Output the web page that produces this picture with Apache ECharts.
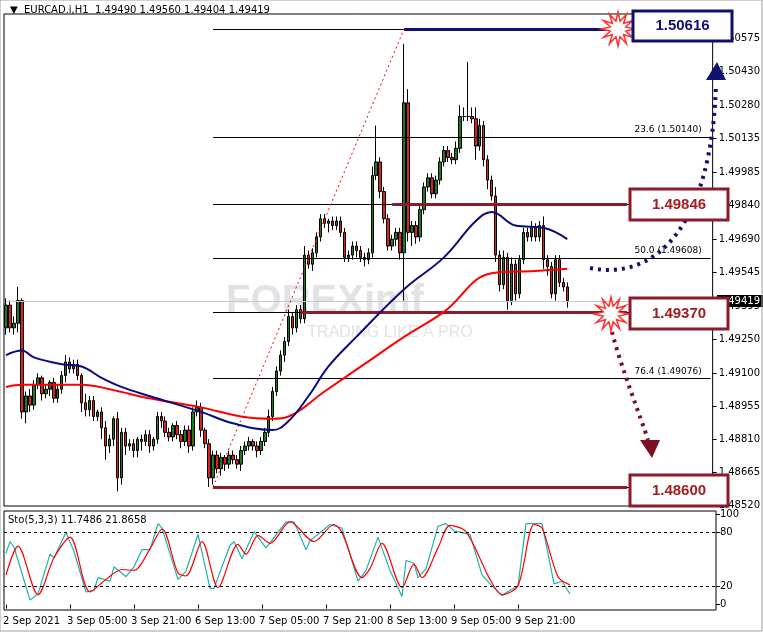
<!DOCTYPE html>
<html><head><meta charset="utf-8">
<script src="https://cdn.jsdelivr.net/npm/echarts@6/dist/echarts.min.js"></script>
<style>html,body{margin:0;padding:0;background:#f0f0f0;}#c{width:763px;height:632px;}</style>
</head><body><div id="c"></div>
<script>
const tickLabels = ['2 Sep 2021','3 Sep 05:00','3 Sep 21:00','6 Sep 13:00','7 Sep 05:00','7 Sep 21:00','8 Sep 13:00','9 Sep 05:00','9 Sep 21:00'];
const firstOpen = 1.4930;
const closes = [
1.4940,1.4930,1.4932,1.4942,1.4893,1.4900,1.4896,1.4905,1.4908,1.4901,
1.4903,1.4906,1.4899,1.4903,1.4909,1.4915,1.4912,1.4914,1.4909,1.4897,
1.4894,1.4898,1.4891,1.4893,1.4886,1.4878,1.4881,1.4890,1.4864,1.4884,
1.4878,1.4879,1.4876,1.4881,1.4880,1.4883,1.4878,1.4881,1.4891,1.4889,
1.4884,1.4882,1.4887,1.4883,1.4880,1.4885,1.4878,1.4893,1.4895,1.4885,
1.4879,1.4864,1.4874,1.4868,1.4873,1.4870,1.4874,1.4872,1.4870,1.4876,
1.4878,1.4880,1.4878,1.4876,1.4880,1.4884,1.4891,1.4902,1.4911,1.4918,
1.4924,1.4935,1.4930,1.4938,1.4934,1.4962,1.4958,1.4963,1.4970,1.4978,
1.4976,1.4977,1.4975,1.4977,1.4972,1.4961,1.4962,1.4966,1.4964,1.4961,
1.4960,1.4963,1.4997,1.5003,1.4990,1.4978,1.4966,1.4969,1.4972,1.4963,
1.5029,1.4972,1.4975,1.4970,1.4982,1.4992,1.4996,1.4989,1.4995,1.5003,
1.5008,1.5005,1.5004,1.5009,1.5023,1.5023,1.5023,1.5022,1.5010,1.5019,
1.5004,1.4995,1.4988,1.4962,1.4949,1.4961,1.4942,1.4958,1.4945,1.4960,
1.4972,1.4970,1.4974,1.4970,1.4975,1.4960,1.4957,1.4945,1.4960,1.4950,
1.4948,1.49419];
const wickUp = [
3,2,3,6,1,2,3,2,2,1, 2,1,2,2,2,3,2,2,2,1, 4,2,2,1,2,3,2,1,3,2, 2,2,2,1,2,2,2,1,2,2,
2,2,1,2,2,2,2,2,3,2, 1,2,2,2,2,1,2,2,2,2, 2,2,1,2,2,2,3,2,2,2, 2,3,2,2,2,4,2,2,2,2,
2,1,2,2,2,2,2,2,2,2, 2,2,4,16,2,2,2,2,2,2, 26,6,2,2,2,2,2,2,2,2, 2,2,2,3,5,4,24,4,5,3,
2,2,2,4,2,3,2,3,2,2, 2,2,3,2,2,4,2,2,2,2, 2,2];
const wickDn = [
3,2,3,4,3,5,3,2,2,3, 2,3,2,2,2,3,2,2,2,4, 3,3,2,2,5,6,3,3,6,3, 4,2,3,3,4,2,3,2,2,3,
2,2,2,2,3,2,3,2,2,3, 2,4,3,2,3,3,2,2,2,3, 2,2,2,3,2,2,2,2,2,2, 3,2,3,2,2,2,2,3,2,2,
2,4,2,2,2,2,2,2,3,2, 3,2,2,2,3,2,2,2,3,3, 21,4,6,3,2,2,2,2,2,2, 2,2,2,2,2,2,2,2,6,2,
3,4,2,3,3,2,4,2,3,2, 2,2,2,2,2,4,4,2,3,2, 2,3];
const maBlue = [[0,1.4918],[4,1.4920],[7,1.4917],[14,1.4914],[19,1.4913],[24,1.4908],[29,1.4904],[36,1.4900],[49,1.4893],[57,1.4888],[67,1.4885],[71,1.4889],[76,1.4900],[81,1.4913],[88,1.4926],[100,1.4947],[110,1.4961],[118,1.4977],[122,1.4981],[128,1.4975],[135,1.4974],[141,1.4969]];
const maRed = [[0,1.4904],[4,1.4905],[16,1.4905],[19,1.4905],[26,1.4903],[36,1.4899],[49,1.4895],[59,1.4891],[67,1.4890],[71,1.4891],[80,1.4902],[90,1.4914],[100,1.4926],[110,1.4937],[122,1.4954],[133,1.4955],[141,1.4956]];
const stoK = [[0,57],[1,70],[2,64],[6,5],[8,12],[11,56],[12,52],[15,80],[17,59],[20,14],[22,16],[23,30],[26,26],[27,42],[30,31],[32,42],[34,61],[36,61],[38,90],[39,85],[43,28],[45,37],[48,78],[51,18],[52,18],[56,66],[57,70],[59,51],[62,81],[65,63],[70,92],[72,92],[75,61],[76,71],[81,89],[84,85],[88,26],[90,38],[93,75],[96,38],[99,9],[100,49],[102,46],[103,30],[105,40],[108,87],[110,90],[112,82],[116,78],[119,33],[121,23],[124,10],[126,16],[128,21],[130,90],[134,90],[137,23],[139,26],[141,11.7486]];
const stoD = [[0,33],[3,65],[8,11],[12,52],[16,75],[21,14],[25,28],[29,39],[32,38],[36,62],[39,84],[43,35],[45,32],[49,70],[53,19],[58,67],[60,56],[63,77],[66,68],[71,92],[77,70],[82,89],[84,80],[89,30],[91,40],[94,68],[99,19],[102,45],[104,30],[108,63],[111,88],[115,81],[121,28],[124,11],[128,21],[132,89],[134,85],[138,31],[141,21.8658]];
const priceTicks = [1.48520,1.48665,1.48810,1.48955,1.49100,1.49250,1.49395,1.49545,1.49690,1.49840,1.49985,1.50135,1.50280,1.50430,1.50575];
const fibLevels = [['23.6',1.50140],['38.2',1.49846],['50.0',1.49608],['61.8',1.49370],['76.4',1.49076],['100.0',1.48600]];
const swingHigh = 1.50616, swingLow = 1.48600, lastPrice = 1.49419;
const NSLOTS = 178;

const cats = Array.from({length:NSLOTS},(_,i)=>String(i));
const candles = closes.map((c,i)=>{
  const o = i===0?firstOpen:closes[i-1];
  return [o,c,Math.min(o,c)-wickDn[i]*1e-4,Math.max(o,c)+wickUp[i]*1e-4];
});
const F = 'Tahoma, "DejaVu Sans", sans-serif';
const ml = [];
const seg=(a,va,b,vb,col,w,type)=>ml.push([{coord:[a,va],symbol:'none',lineStyle:{color:col,width:w,type:type||'solid'},label:{show:false}},{coord:[b,vb],symbol:'none'}]);
fibLevels.forEach(f=>seg(52,f[1],177,f[1],'#000',1));
seg(52,swingHigh,100,swingHigh,'#000',1);
seg(100,swingHigh,151,swingHigh,'#101070',3);
seg(97,1.49846,156,1.49846,'#8b1a2b',3);
seg(74,1.49370,156,1.49370,'#8b1a2b',3);
seg(52,1.48600,156,1.48600,'#8b1a2b',3);
seg(0,lastPrice,177,lastPrice,'#c8c8c8',1);
seg(52,swingLow,100,swingHigh,'#ff0000',1,[2,3]);
const fibLabels = fibLevels.filter(f=>['23.6','50.0','76.4'].includes(f[0])).map(f=>({coord:[176,f[1]],symbol:'circle',symbolSize:0,label:{show:true,position:'left',formatter:f[0]+' ('+f[1].toFixed(5)+')',color:'#000',fontSize:9,fontFamily:F,offset:[0,-7]}}));

function star(cx,cy,r1,r2,n){const p=[];for(let k=0;k<2*n;k++){const r=k%2?r2:r1;const a=Math.PI*k/n-Math.PI/2;p.push([cx+r*Math.cos(a),cy+r*Math.sin(a)]);}return p;}
function box(x,y,w,h,txt,col){return [{type:'rect',shape:{x:x,y:y,width:w,height:h},style:{fill:'#fff',stroke:col,lineWidth:3},z:100},
 {type:'text',x:x+w/2,y:y+h/2,style:{text:txt,fill:col==='#101070'?'#101070':'#a02020',font:'bold 15px Arial, "Liberation Sans", sans-serif',align:'center',verticalAlign:'middle'},z:101}];}

const chart = echarts.init(document.getElementById('c'));
chart.setOption({
  animation:false,
  backgroundColor:'#fff',
  grid:[{left:4,right:47,top:14,bottom:126,show:true,borderColor:'#000',borderWidth:1,backgroundColor:'#fff'},
        {left:4,right:47,top:511,bottom:22,show:true,borderColor:'#000',borderWidth:1,backgroundColor:'#fff'}],
  xAxis:[{type:'category',data:cats,gridIndex:0,boundaryGap:true,axisLine:{show:false},axisTick:{show:false},axisLabel:{show:false}},
         {type:'category',data:cats,gridIndex:1,boundaryGap:true,axisLine:{show:false},
          axisTick:{show:true,interval:(i)=>i%16===0&&i<144,length:4,lineStyle:{color:'#000'},alignWithLabel:true},
          axisLabel:{show:true,interval:0,formatter:(v,i)=>(i%16===0&&i<144)?tickLabels[i/16]:'',align:'left',color:'#000',fontSize:10,fontFamily:F,margin:6,padding:[0,0,0,-3]}}],
  yAxis:[{type:'value',gridIndex:0,position:'right',min:1.48516,max:1.50681,splitLine:{show:false},axisLine:{show:false},
          axisTick:{show:true,customValues:priceTicks,length:4,lineStyle:{color:'#000'}},
          axisLabel:{show:true,customValues:priceTicks,formatter:v=>v.toFixed(5),color:'#000',fontSize:10,fontFamily:F,margin:6}},
         {type:'value',gridIndex:1,position:'right',min:-6,max:104,splitLine:{show:false},axisLine:{show:false},
          axisTick:{show:true,customValues:[0,20,80,100],length:4,lineStyle:{color:'#000'}},
          axisLabel:{show:true,customValues:[0,20,80,100],color:'#000',fontSize:10,fontFamily:F,margin:4}}],
  series:[
    {type:'candlestick',xAxisIndex:0,yAxisIndex:0,data:candles,barWidth:3,
     itemStyle:{color:'#1f7a1f',color0:'#e02020',borderColor:'#000',borderColor0:'#000',borderWidth:1},
     markLine:{silent:true,symbol:'none',data:ml,animation:false},
     markPoint:{silent:true,data:fibLabels}},
    {type:'line',xAxisIndex:0,yAxisIndex:0,data:maRed,smooth:0.4,symbol:'none',lineStyle:{color:'#ff0000',width:2},z:5},
    {type:'line',xAxisIndex:0,yAxisIndex:0,data:maBlue,smooth:0.4,symbol:'none',lineStyle:{color:'#0b0b80',width:2},z:5},
    {type:'line',xAxisIndex:1,yAxisIndex:1,data:stoK,symbol:'none',lineStyle:{color:'#20b2aa',width:1.2},
     markLine:{silent:true,symbol:'none',label:{show:false},lineStyle:{color:'#000',type:[3,3],width:1},data:[{yAxis:80},{yAxis:20}]}},
    {type:'line',xAxisIndex:1,yAxisIndex:1,data:stoD,smooth:0.3,symbol:'none',lineStyle:{color:'#ff0000',width:1.2}}
  ],
  graphic:[
    {type:'text',x:325,y:302,style:{text:'FOREXimf',fill:'rgba(150,150,170,0.28)',font:'bold 40px Arial, "Liberation Sans", sans-serif',align:'center',verticalAlign:'middle'},z:1},
    {type:'text',x:390,y:333,style:{text:'TRADING LIKE A PRO',fill:'rgba(150,150,170,0.28)',font:'16px Arial, "Liberation Sans", sans-serif',align:'center',verticalAlign:'middle'},z:1},
    {type:'text',x:10,y:10,style:{text:'▼  EURCAD.i,H1  1.49490 1.49560 1.49404 1.49419',fill:'#000',font:'10px Tahoma, "DejaVu Sans", sans-serif',verticalAlign:'middle'},z:50},
    {type:'text',x:8,y:520,style:{text:'Sto(5,3,3) 11.7486 21.8658',fill:'#000',font:'10px Tahoma, "DejaVu Sans", sans-serif',verticalAlign:'middle'},z:50},
    {type:'rect',shape:{x:717,y:295,width:46,height:12},style:{fill:'#000'},z:60},
    {type:'text',x:760,y:301,style:{text:'49419',fill:'#fff',font:'10px Tahoma, "DejaVu Sans", sans-serif',align:'right',verticalAlign:'middle'},z:61},
    {type:'rect',shape:{x:0,y:0,width:762,height:631},style:{fill:'none',stroke:'#a0a0a0',lineWidth:1},z:200},
    {type:'bezierCurve',shape:{x1:590,y1:268,x2:716,y2:84,cpx1:660,cpy1:282,cpx2:712,cpy2:220},style:{stroke:'#101070',lineWidth:4,lineDash:[3,5],fill:'none'},z:90},
    {type:'polygon',shape:{points:[[706,80],[726,80],[717,62]]},style:{fill:'#101070'},z:90},
    {type:'bezierCurve',shape:{x1:612,y1:332,x2:648,y2:440,cpx1:622,cpy1:370,cpx2:640,cpy2:415},style:{stroke:'#7a1020',lineWidth:4,lineDash:[3,5],fill:'none'},z:90},
    {type:'polygon',shape:{points:[[640,440],[660,440],[652,458]]},style:{fill:'#7a1020'},z:90},
    {type:'polygon',shape:{points:star(618,29,17,8,12)},style:{fill:'#fff',stroke:'#ff3030',lineWidth:1.5},z:95},
    {type:'polygon',shape:{points:star(611,314,17,8,12)},style:{fill:'#fff',stroke:'#ff3030',lineWidth:1.5},z:95},
    ...box(633,11,99,30,'1.50616','#101070'),
    ...box(630,189,98,31,'1.49846','#8b1a2b'),
    ...box(630,298,98,31,'1.49370','#8b1a2b'),
    ...box(630,475,98,31,'1.48600','#8b1a2b')
  ]
});
</script></body></html>
